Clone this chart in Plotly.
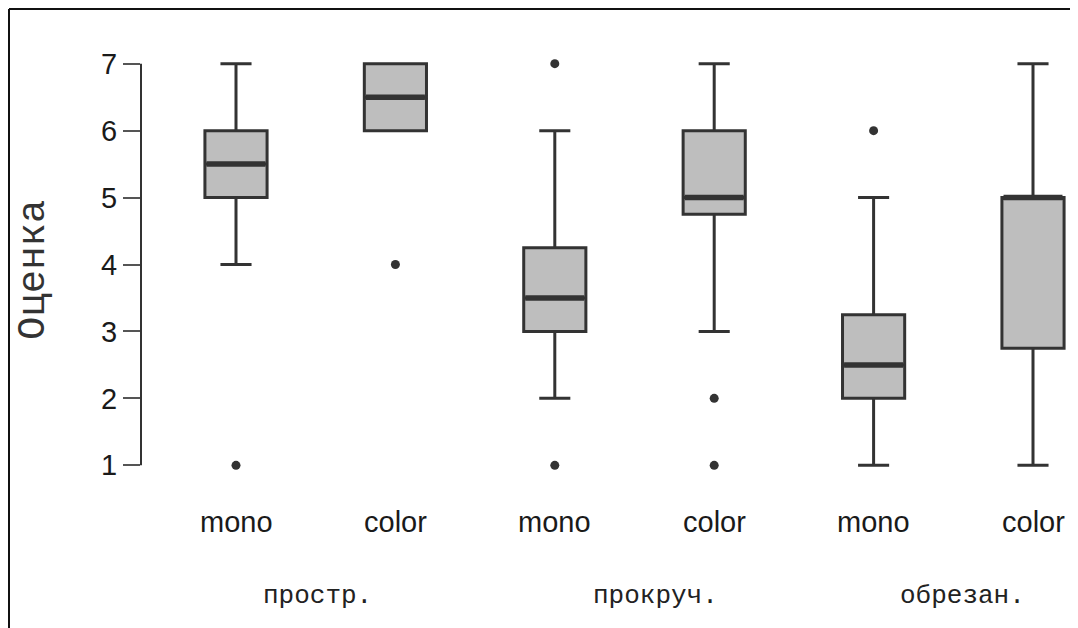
import plotly.graph_objects as go

# ---- data ----
positions = [1, 2, 3, 4, 5, 6]
box_labels = ["mono", "color", "mono", "color", "mono", "color"]
group_labels = ["простр.", "прокруч.", "обрезан."]
group_label_x = [1.514, 3.629, 5.555]
q1 = [5, 6, 3, 4.75, 2, 2.75]
median = [5.5, 6.5, 3.5, 5, 2.5, 5]
q3 = [6, 7, 4.25, 6, 3.25, 5]
lower_whisker = [4, 6, 2, 3, 1, 1]
upper_whisker = [7, 7, 6, 7, 5, 7]
outliers = [[1], [4], [1, 7], [1, 2], [6], []]
y_ticks = [1, 2, 3, 4, 5, 6, 7]
y_title = "Оценка"

BOX_W = 0.39
LINE = "#333333"
FILL = "#bebebe"

# page has an 8px body margin: lay out in page pixels, then shift
OFF = 8
W, H = 1078 - OFF, 628 - OFF
AXIS_PX = 141            # page x of the y axis
FIRST_PX = 236           # page x of first box centre
UNIT_PX = 159.4          # page px between boxes
L = AXIS_PX - OFF
R = 0
T = 57 - OFF
B = 628 - 472
pw, ph = W - L - R, H - T - B

def px_x(px):
    return (px - OFF - L) / pw

def px_y(py):
    return (H - B - (py - OFF)) / ph

fig = go.Figure()

fig.add_trace(go.Box(
    x=positions, q1=q1, median=median, q3=q3,
    lowerfence=lower_whisker, upperfence=upper_whisker,
    width=BOX_W, whiskerwidth=0.5, boxpoints=False,
    fillcolor=FILL, line=dict(color=LINE, width=3),
    showlegend=False, hoverinfo="skip",
))

for p, m in zip(positions, median):
    fig.add_trace(go.Scatter(
        x=[p - BOX_W / 2 + 0.01, p + BOX_W / 2 - 0.01], y=[m, m],
        mode="lines", line=dict(color=LINE, width=5.5),
        showlegend=False, hoverinfo="skip", cliponaxis=False,
    ))

ox, oy = [], []
for p, vals in zip(positions, outliers):
    for v in vals:
        ox.append(p)
        oy.append(v)
fig.add_trace(go.Scatter(
    x=ox, y=oy, mode="markers",
    marker=dict(color=LINE, size=9),
    showlegend=False, hoverinfo="skip", cliponaxis=False,
))

annotations = []
for p, lab in zip(positions, box_labels):
    annotations.append(dict(
        x=p, xref="x", y=px_y(522), yref="paper", text=lab,
        showarrow=False, xanchor="center", yanchor="middle",
        font=dict(family="Liberation Sans, Arial", size=29, color="#1a1a1a"),
    ))
for gx, lab in zip(group_label_x, group_labels):
    annotations.append(dict(
        x=gx, xref="x", y=px_y(596), yref="paper", text=lab,
        showarrow=False, xanchor="center", yanchor="middle",
        font=dict(family="Liberation Mono, Courier New, monospace", size=26, color="#222222"),
    ))
annotations.append(dict(
    x=px_x(34), xref="paper", y=px_y(270), yref="paper", text=y_title,
    textangle=-90, showarrow=False, xanchor="center", yanchor="middle",
    font=dict(family="Liberation Mono, Courier New, monospace", size=39, color="#333333"),
))

shapes = [
    dict(type="line", xref="paper", yref="y", x0=0, x1=0,
         y0=min(y_ticks), y1=max(y_ticks), line=dict(color=LINE, width=2)),
    dict(type="line", xref="paper", yref="paper", x0=px_x(9), x1=px_x(9),
         y0=px_y(9), y1=px_y(640), line=dict(color="#111111", width=2)),
    dict(type="line", xref="paper", yref="paper", x0=px_x(9), x1=px_x(1075),
         y0=px_y(9), y1=px_y(9), line=dict(color="#111111", width=2)),
]

x_lo = positions[0] - (FIRST_PX - AXIS_PX) / UNIT_PX
x_hi = x_lo + pw / UNIT_PX

fig.update_layout(
    width=W, height=H,
    margin=dict(l=L, r=R, t=T, b=B, pad=0),
    paper_bgcolor="white", plot_bgcolor="white",
    xaxis=dict(range=[x_lo, x_hi],
               showgrid=False, zeroline=False, showline=False,
               showticklabels=False, ticks=""),
    yaxis=dict(range=[0.9, 7.1], tickvals=y_ticks, ticktext=[str(v) for v in y_ticks],
               showgrid=False, zeroline=False, showline=False,
               ticks="outside", ticklen=17, tickwidth=2, tickcolor="#555555",
               tickfont=dict(family="Liberation Sans, Arial", size=29, color="#1a1a1a")),
    annotations=annotations,
    shapes=shapes,
)

fig.write_html("out.html")
